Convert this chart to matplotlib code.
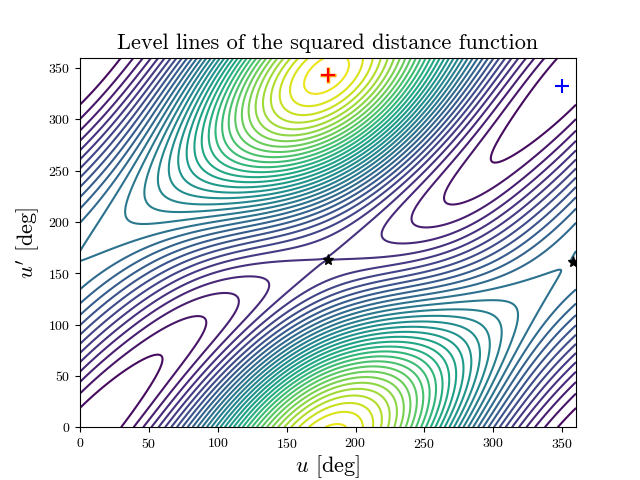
import numpy as np
import matplotlib
matplotlib.use("Agg")
import matplotlib.pyplot as plt

plt.rcParams["mathtext.fontset"] = "cm"
plt.rcParams["font.family"] = "serif"
plt.rcParams["font.serif"] = ["cmr10", "DejaVu Serif"]
plt.rcParams["axes.formatter.use_mathtext"] = True

# orbital elements of the two orbits (a, e, i[deg], Omega[deg], omega[deg])
orbit1 = [1.6, 0.45, 0.0, 0.0, 0.0]
orbit2 = [1.0, 0.10, 25.0, 0.0, 15.0]

# marked points [deg]
min_u = [180, 358]
min_up = [163, 161]
red_pt = (180, 343)
blue_pt = (350, 332)
n_levels = 40


def position(el, E):
    a, e, inc, Om, om = el
    inc, Om, om = np.radians([inc, Om, om])
    x = a * (np.cos(E) - e)
    y = a * np.sqrt(1 - e**2) * np.sin(E)
    co, so = np.cos(om), np.sin(om)
    x1, y1 = co * x - so * y, so * x + co * y
    ci, si = np.cos(inc), np.sin(inc)
    y2, z2 = ci * y1, si * y1
    cO, sO = np.cos(Om), np.sin(Om)
    return cO * x1 - sO * y2, sO * x1 + cO * y2, z2


u = np.linspace(0, 360, 361)
U, UP = np.meshgrid(u, u)
x1, y1, z1 = position(orbit1, np.radians(U))
x2, y2, z2 = position(orbit2, np.radians(UP))
d2 = (x1 - x2)**2 + (y1 - y2)**2 + (z1 - z2)**2

fig, ax = plt.subplots(figsize=(6.4, 4.8), dpi=100)
ax.contour(U, UP, d2, levels=n_levels, cmap="viridis", linewidths=1.5)
ax.plot(min_u, min_up, "k*", markersize=8)
ax.plot(*red_pt, "+", color="orange", markersize=11, mew=2.5)
ax.plot(*red_pt, "r+", markersize=10, mew=1.5)
ax.plot(*blue_pt, "b+", markersize=10, mew=1.5)
ax.set_xlim(0, 360)
ax.set_ylim(0, 360)
ax.set_title("Level lines of the squared distance function", fontsize=16)
ax.set_xlabel(r"$u$ [deg]", fontsize=16, labelpad=2)
ax.set_ylabel(r"$u'$ [deg]", fontsize=16)
fig.savefig("out.png")
